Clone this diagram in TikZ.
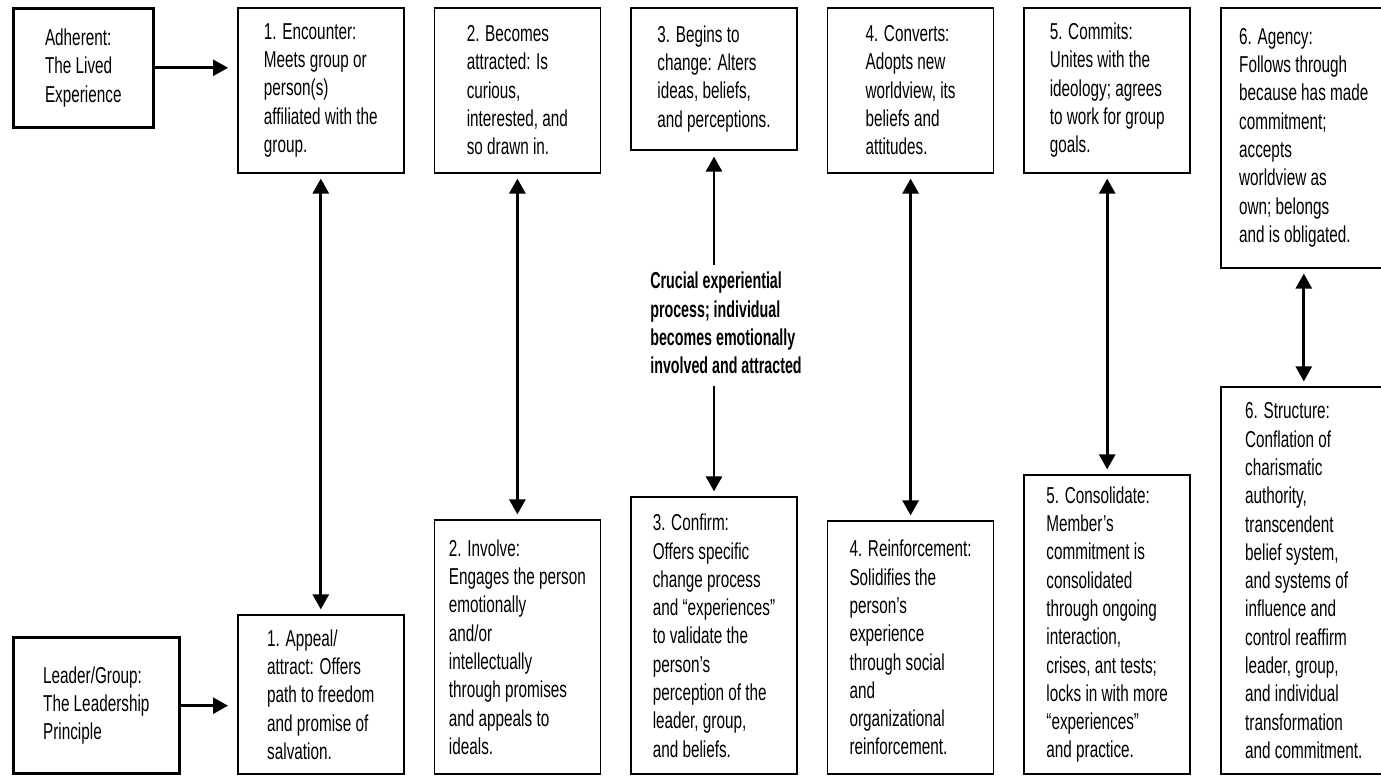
\documentclass[tikz,border=0pt]{standalone}
\usepackage{fontspec}
\setmainfont{Liberation Sans}[FakeStretch=0.665]
\newfontfamily\notefont{Liberation Sans}[FakeStretch=0.62]
\usetikzlibrary{arrows.meta,positioning}
\newcommand{\stagefont}{\fontsize{23}{28.3}\selectfont}

\begin{document}
\begin{tikzpicture}[
  x=1pt, y=1pt,
  node distance=29pt,
  stage/.style={draw,line width=1.6pt,minimum width=166pt,align=left,
    inner sep=0pt,font=\stagefont},
  source/.style={stage,line width=2.6pt},
  link/.style={-{Triangle[length=15pt,width=16pt]},line width=2.8pt},
  twoway/.style={{Triangle[length=15pt,width=16pt]}-{Triangle[length=15pt,width=16pt]},
    line width=2.8pt,shorten <=5pt,shorten >=5pt}
]
  \useasboundingbox (0,0) rectangle (1381,777);

  % the adherent: lived experience
  \node[source,minimum width=140pt,minimum height=119pt,anchor=north west] (adherent)
    at (12,770) {Adherent:\\The Lived\\Experience};
  \node[stage,minimum height=165pt,anchor=north west] (encounter) at (237,770)
    {1. Encounter:\\Meets group or\\person(s)\\affiliated with the\\group.};
  \node[stage,minimum height=165pt,right=of encounter.north east,anchor=north west] (attracted)
    {2. Becomes\\attracted: Is\\curious,\\interested, and\\so drawn in.};
  \node[stage,minimum height=142pt,right=of attracted.north east,anchor=north west] (change)
    {3. Begins to\\change: Alters\\ideas, beliefs,\\and perceptions.};
  \node[stage,minimum height=165pt,right=of change.north east,anchor=north west] (converts)
    {4. Converts:\\Adopts new\\worldview, its\\beliefs and\\attitudes.};
  \node[stage,minimum height=165pt,right=of converts.north east,anchor=north west] (commits)
    {5. Commits:\\Unites with the\\ideology; agrees\\to work for group\\goals.};
  \node[stage,minimum height=260pt,right=of commits.north east,anchor=north west] (agency)
    {6. Agency:\\Follows through\\because has made\\commitment;\\accepts\\worldview as\\own; belongs\\and is obligated.};

  % the leader/group: leadership principle
  \node[source,minimum height=136pt,anchor=south west] (leader)
    at (12,2) {Leader/Group:\\The Leadership\\Principle};
  \node[stage,minimum height=159pt,anchor=south west] (appeal) at (237,2)
    {1. Appeal/\\attract: Offers\\path to freedom\\and promise of\\salvation.};
  \node[stage,minimum height=254pt,right=of appeal.south east,anchor=south west] (involve)
    {2. Involve:\\Engages the person\\emotionally\\and/or\\intellectually\\through promises\\and appeals to\\ideals.};
  \node[stage,minimum height=277pt,right=of involve.south east,anchor=south west] (confirm)
    {3. Confirm:\\Offers specific\\change process\\and “experiences”\\to validate the\\person’s\\perception of the\\leader, group,\\and beliefs.};
  \node[stage,minimum height=253pt,right=of confirm.south east,anchor=south west] (reinforce)
    {4. Reinforcement:\\Solidifies the\\person’s\\experience\\through social\\and\\organizational\\reinforcement.};
  \node[stage,minimum height=299pt,right=of reinforce.south east,anchor=south west] (consolidate)
    {5. Consolidate:\\Member’s\\commitment is\\consolidated\\through ongoing\\interaction,\\crises, ant tests;\\locks in with more\\“experiences”\\and practice.};
  \node[stage,minimum height=387pt,right=of consolidate.south east,anchor=south west] (structure)
    {6. Structure:\\Conflation of\\charismatic\\authority,\\transcendent\\belief system,\\and systems of\\influence and\\control reaffirm\\leader, group,\\and individual\\transformation\\and commitment.};

  \node[align=left,inner sep=4pt,font=\notefont\bfseries\stagefont] (crucial) at (726,454)
    {Crucial experiential\\process; individual\\becomes emotionally\\involved and attracted};

  \draw[link,shorten >=9pt] (adherent.east) -- (adherent.east -| encounter.west);
  \draw[link,shorten >=9pt] (leader.east) -- (leader.east -| appeal.west);

  \draw[twoway] (encounter.south) -- (appeal.north);
  \draw[twoway] (attracted.south) -- (involve.north);
  \draw[link,shorten <=3pt,shorten >=6pt] (crucial.north -| change.south) -- (change.south);
  \draw[link,shorten <=8pt,shorten >=5pt] (crucial.south -| confirm.north) -- (confirm.north);
  \draw[twoway] (converts.south) -- (reinforce.north);
  \draw[twoway] (commits.south) -- (consolidate.north);
  \draw[twoway] (agency.south) -- (structure.north);
\end{tikzpicture}
\end{document}
